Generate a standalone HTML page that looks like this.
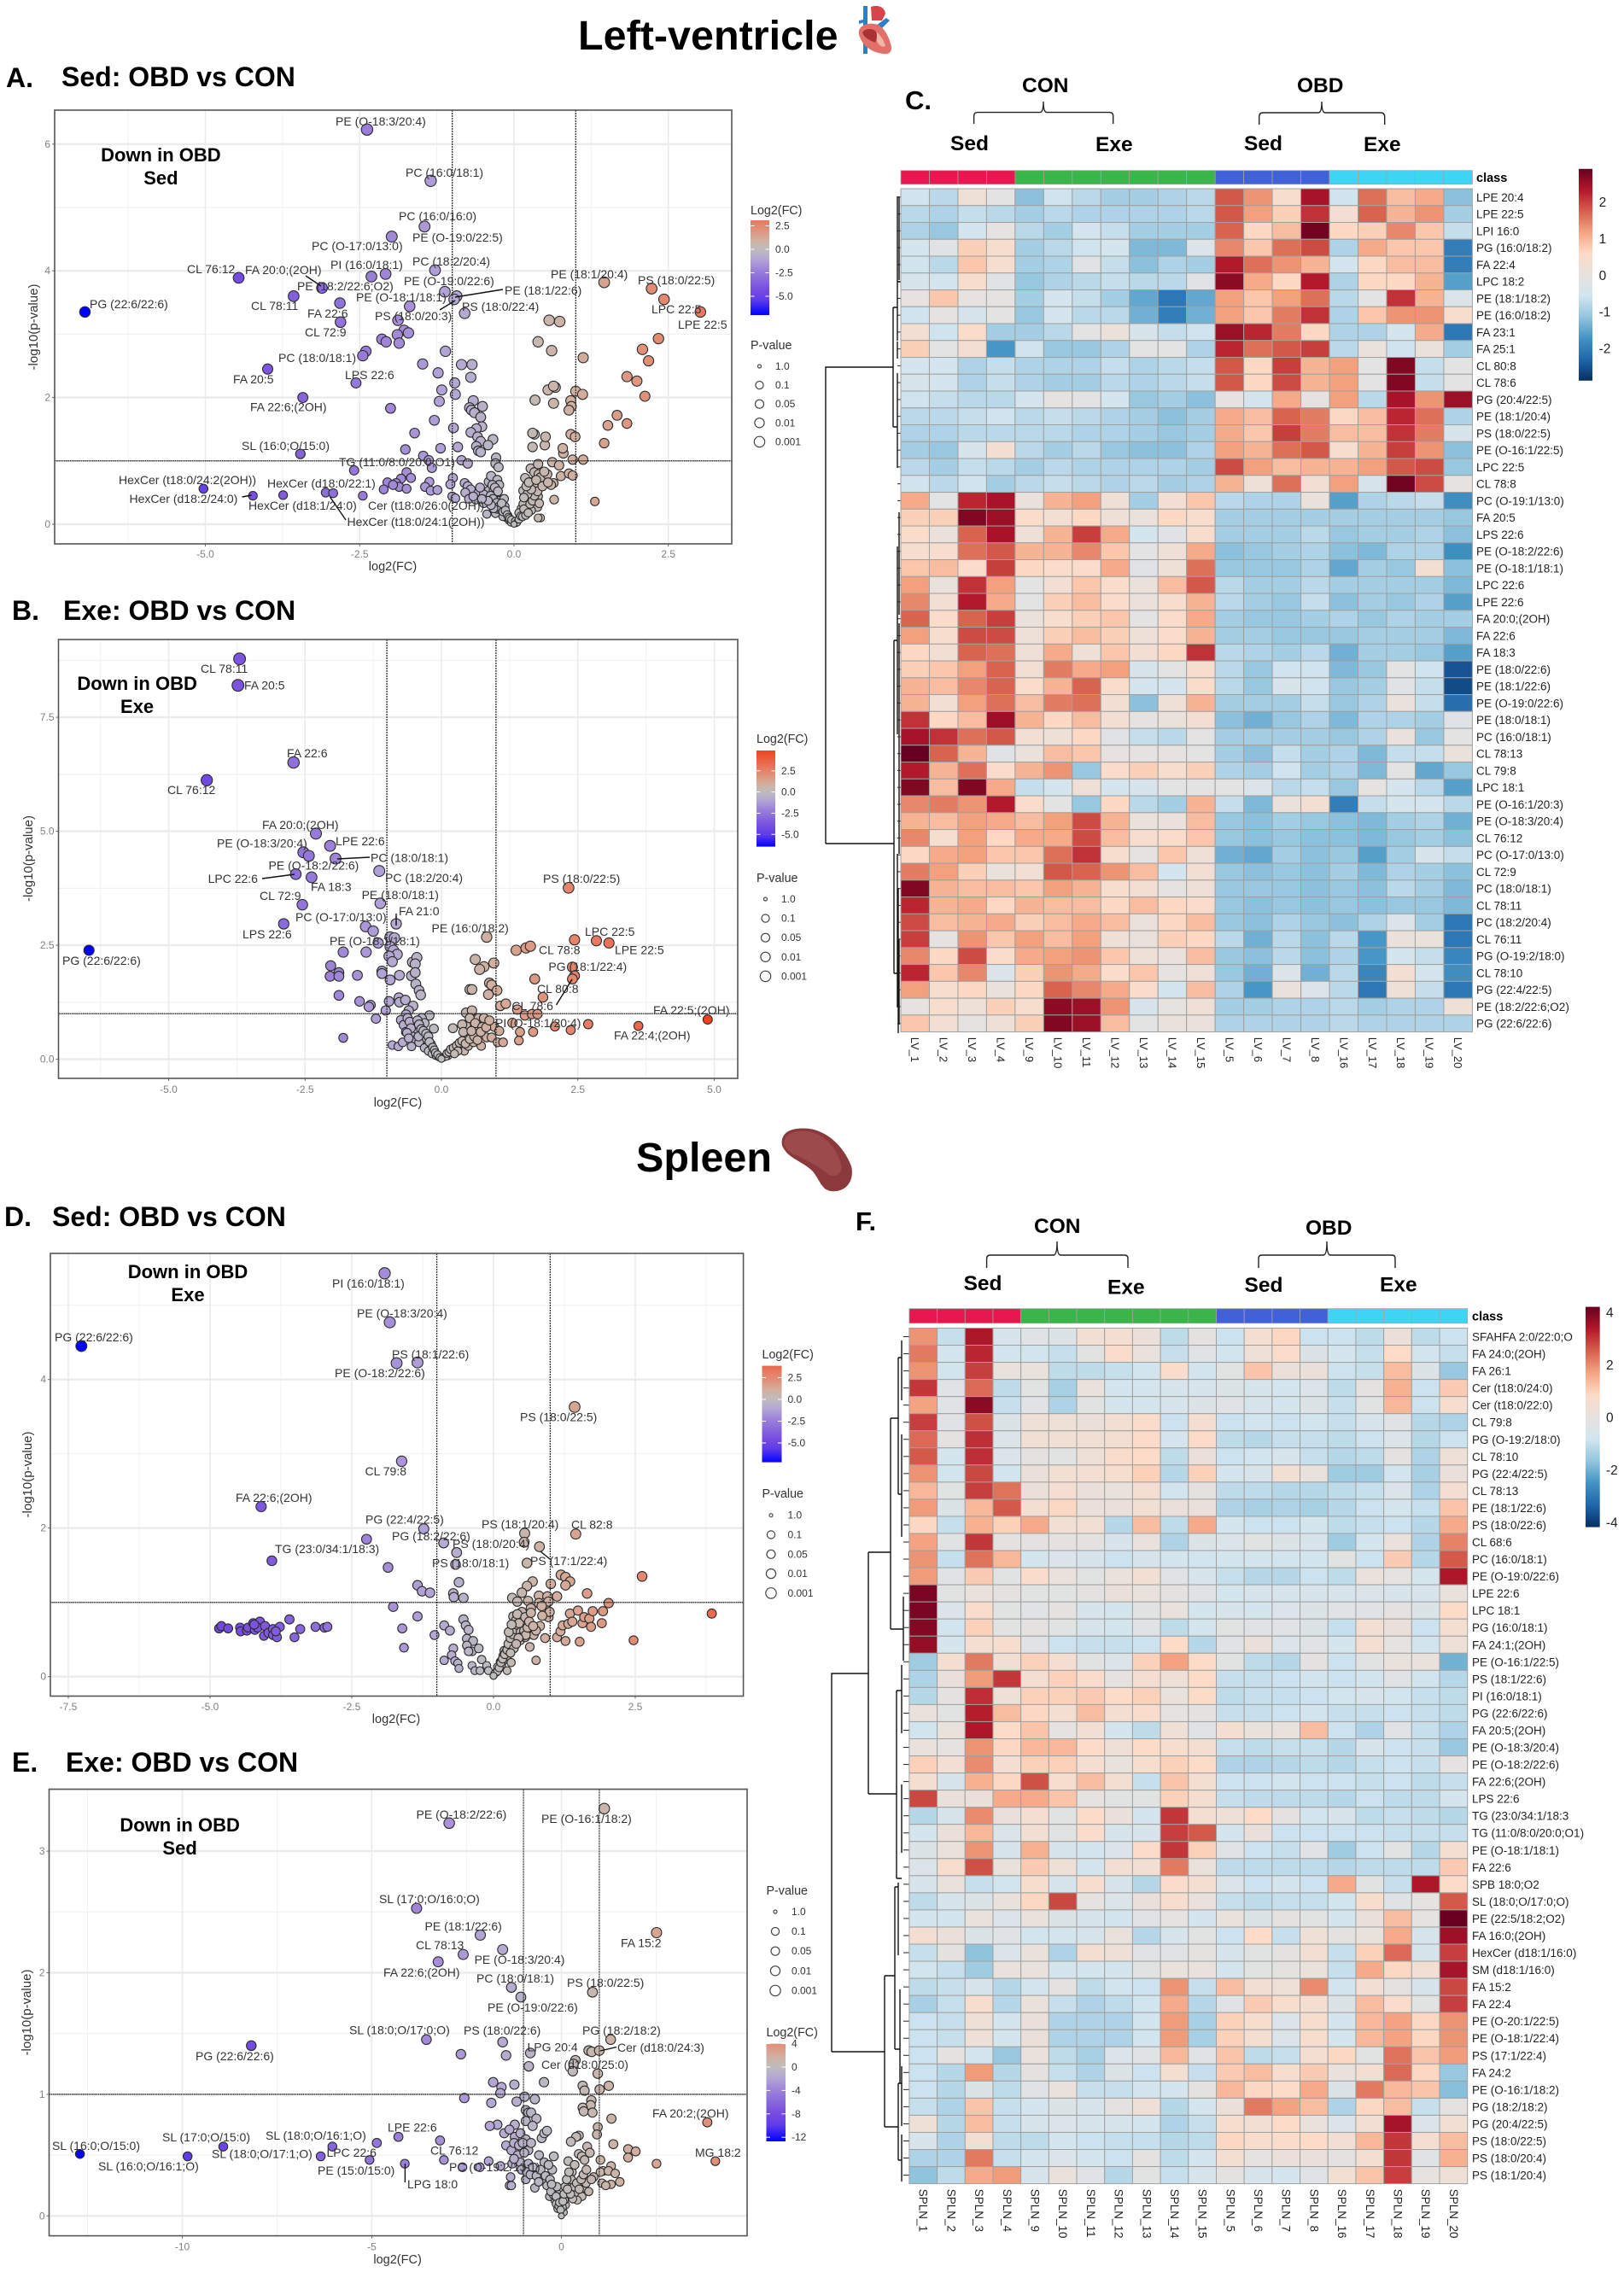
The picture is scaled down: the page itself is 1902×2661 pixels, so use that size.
<!DOCTYPE html>
<html lang="en">
<head>
<meta charset="utf-8">
<title>Lipidomics volcano plots and heatmaps: left ventricle and spleen</title>
<style>
html,body{margin:0;padding:0;background:#fff}
svg{display:block;font-family:"Liberation Sans",sans-serif}
.lb{font-size:14px;fill:#333}
.title{font-size:32px;font-weight:700;fill:#000}
.big{font-size:48.5px;font-weight:700;fill:#000}
.grp{font-size:24.5px;font-weight:700;fill:#000}
.note{font-size:22px;font-weight:700;fill:#000;text-anchor:middle}
.seg{stroke:#111;stroke-width:1.4;fill:none}
.brk{stroke:#222;stroke-width:1.4;fill:none}
.den{stroke:#111;stroke-width:1.4;fill:none}
</style>
</head>
<body>
<svg id="fig" xmlns="http://www.w3.org/2000/svg" width="1902" height="2661" viewBox="0 0 1902 2661">
<rect x="0" y="0" width="1902" height="2661" fill="#fff"/>
<defs id="defs"></defs>

<text class="big" x="677" y="58">Left-ventricle</text>
<g>
<path d="M1011 7h5v56h-5z" fill="#2c80c4"/>
<path d="M1006 24l10-2v3l-10 3z" fill="#2c80c4"/>
<path d="M1020 8c8-3 16 0 17 8l-4 8h-12z" fill="#d9434a"/>
<path d="M1026 30l12-9 4 3-12 12z" fill="#2c80c4"/>
<path d="M1006 36c2-8 14-10 22-7 8 4 12 12 15 22 3 9-1 13-8 12-11-1-19-6-24-12-3-5-6-10-5-15z" fill="#e2706a"/>
<path d="M1010 38c3-5 11-5 15-2 3 3 2 9 0 14-4-2-13-5-15-12z" fill="#a93237"/>
<path d="M1027 38c4 3 8 9 10 16-4 2-8-1-10-6z" fill="#f2b5a8"/>
</g>

<text class="big" x="745" y="1372">Spleen</text>
<g transform="translate(887,1300) scale(.35)">
<path d="M82 105C85 70 120 58 170 62C230 68 290 120 315 190C325 240 295 275 250 272C215 270 210 235 185 205C160 180 120 165 100 145C88 130 80 120 82 105Z" fill="#8a3a3c"/>
<path d="M90 105C95 78 125 68 170 72C225 80 270 130 282 190C282 215 262 225 240 218C210 190 170 170 115 145C95 130 88 120 90 105Z" fill="#9c4a4b"/>
</g>

<text class="title" x="7" y="102">A.</text>
<text class="title" x="72" y="101">Sed: OBD vs CON</text>
<text class="title" x="14" y="726">B.</text>
<text class="title" x="74" y="726">Exe: OBD vs CON</text>
<text class="title" style="font-size:31px" x="1060" y="128">C.</text>
<text class="title" x="5" y="1436">D.</text>
<text class="title" x="61" y="1436">Sed: OBD vs CON</text>
<text class="title" x="14" y="2075">E.</text>
<text class="title" x="77" y="2075">Exe: OBD vs CON</text>
<text class="title" style="font-size:31px" x="1002" y="1441">F.</text>

<!-- heatmap C annotations -->
<text class="grp" x="1197" y="108">CON</text>
<text class="grp" x="1519" y="108">OBD</text>
<text class="grp" x="1113" y="176">Sed</text>
<text class="grp" x="1283" y="177">Exe</text>
<text class="grp" x="1457" y="176">Sed</text>
<text class="grp" x="1597" y="177">Exe</text>
<path class="brk" d="M1140.6 145V136Q1140.6 131.6 1145 131.6H1218Q1222 131.6 1222 119Q1222 131.6 1226 131.6H1299Q1303.7 131.6 1303.7 136V145"/>
<path class="brk" d="M1474.7 146V137Q1474.7 132 1479 132H1544Q1548 132 1548 119Q1548 132 1552 132H1617Q1621.7 132 1621.7 137V146"/>

<!-- heatmap F annotations -->
<text class="grp" x="1211" y="1444">CON</text>
<text class="grp" x="1529" y="1446">OBD</text>
<text class="grp" x="1128.6" y="1511">Sed</text>
<text class="grp" x="1297" y="1515.5">Exe</text>
<text class="grp" x="1457.5" y="1513">Sed</text>
<text class="grp" x="1616" y="1512.5">Exe</text>
<path class="brk" d="M1155.6 1485V1474Q1155.6 1470 1160 1470H1234Q1238 1470 1238 1454Q1238 1470 1242 1470H1317Q1321 1470 1321 1474V1485"/>
<path class="brk" d="M1474 1485V1474Q1474 1470 1478 1470H1550Q1554 1470 1554 1454Q1554 1470 1558 1470H1630Q1634 1470 1634 1474V1485"/>

<!-- dendrograms -->
<path class="den" d="M967 988V430H1046M967 988H1047M1046 360V500M1046 360H1051M1046 500H1051M1051 230V345M1051 400V420M1051 309V399M1051 437V548M1053 230V328M1051 330H1055M1047 750V1140M1047 750H1051M1047 1140H1051M1051 640V860M1051 1000V1180M1053 600V720M1053 730V900M1053 900V1000M1052 1040V1210M1053 1100V1200"/>
<path class="den" d="M974 2403V1960H1017M974 2403H1036M1017 1818V2101M1017 1818H1043M1017 2101H1050M1043 1661V1908M1043 1661H1052M1043 1908H1058M1052 1590V1750M1052 1590H1056M1052 1750H1056M1056 1570V1640M1056 1680V1800M1058 1870V1945M1050 1980V2200M1050 1980H1056M1050 2200H1056M1056 1950V2030M1056 2090V2170M1036 2314V2491M1036 2314H1048M1036 2491H1052M1048 2210V2400M1048 2210H1052M1048 2400H1054M1052 2205V2290M1054 2330V2440M1052 2440V2530M1052 2440H1056M1052 2530H1056M1056 2420V2490M1056 2500V2555"/>
<g id="stubs"></g>

<g id="panels"></g>
<g id="heatmaps"></g>

<!-- Volcano A labels -->
<g>
<text class="lb" x="393" y="147">PE (O-18:3/20:4)</text>
<text class="lb" x="475" y="207">PC (16:0/18:1)</text>
<text class="lb" x="467" y="258">PC (16:0/16:0)</text>
<text class="lb" x="483" y="283">PE (O-19:0/22:5)</text>
<text class="lb" x="365" y="293">PC (O-17:0/13:0)</text>
<text class="lb" x="387" y="315">PI (16:0/18:1)</text>
<text class="lb" x="483" y="311">PC (18:2/20:4)</text>
<text class="lb" x="219" y="320">CL 76:12</text>
<text class="lb" x="287" y="321">FA 20:0;(2OH)</text>
<text class="lb" x="348" y="340">PE (18:2/22:6;O2)</text>
<text class="lb" x="473" y="334">PE (O-19:0/22:6)</text>
<text class="lb" x="645" y="326">PE (18:1/20:4)</text>
<text class="lb" x="747" y="333">PS (18:0/22:5)</text>
<text class="lb" x="417" y="353">PE (O-18:1/18:1)</text>
<text class="lb" x="591" y="345">PE (18:1/22:6)</text>
<text class="lb" x="105" y="361">PG (22:6/22:6)</text>
<text class="lb" x="294" y="363">CL 78:11</text>
<text class="lb" x="541" y="364">PS (18:0/22:4)</text>
<text class="lb" x="763" y="367">LPC 22:5</text>
<text class="lb" x="360" y="372">FA 22:6</text>
<text class="lb" x="439" y="375">PS (18:0/20:3)</text>
<text class="lb" x="794" y="385">LPE 22:5</text>
<text class="lb" x="357" y="394">CL 72:9</text>
<text class="lb" x="326" y="424">PC (18:0/18:1)</text>
<text class="lb" x="404" y="444">LPS 22:6</text>
<text class="lb" x="273" y="449">FA 20:5</text>
<text class="lb" x="293" y="481.5">FA 22:6;(2OH)</text>
<text class="lb" x="283" y="527">SL (16:0;O/15:0)</text>
<text class="lb" x="397" y="546">TG (11:0/8:0/20:0;O1)</text>
<text class="lb" x="139" y="567">HexCer (t18:0/24:2(2OH))</text>
<text class="lb" x="313" y="571">HexCer (d18:0/22:1)</text>
<text class="lb" x="151.5" y="589">HexCer (d18:2/24:0)</text>
<text class="lb" x="291" y="597">HexCer (d18:1/24:0)</text>
<text class="lb" x="431" y="597">Cer (t18:0/26:0(2OH))</text>
<text class="lb" x="406.5" y="616">HexCer (t18:0/24:1(2OH))</text>
<path class="seg" d="M358 323L376 335M533 348L589 339M515 363L533 352M283.5 582L294.5 580M386.5 582L405 609"/>
</g>

<!-- Volcano B labels -->
<g>
<text class="lb" x="235" y="788">CL 78:11</text>
<text class="lb" x="286" y="807.7">FA 20:5</text>
<text class="lb" x="336" y="887">FA 22:6</text>
<text class="lb" x="196" y="930">CL 76:12</text>
<text class="lb" x="307" y="971">FA 20:0;(2OH)</text>
<text class="lb" x="254" y="992.5">PE (O-18:3/20:4)</text>
<text class="lb" x="393" y="990">LPE 22:6</text>
<text class="lb" x="434" y="1009.7">PC (18:0/18:1)</text>
<text class="lb" x="314.5" y="1018.7">PE (O-18:2/22:6)</text>
<text class="lb" x="243.6" y="1034">LPC 22:6</text>
<text class="lb" x="451" y="1033">PC (18:2/20:4)</text>
<text class="lb" x="636" y="1034">PS (18:0/22:5)</text>
<text class="lb" x="364" y="1043.6">FA 18:3</text>
<text class="lb" x="423.6" y="1053">PE (18:0/18:1)</text>
<text class="lb" x="304" y="1054">CL 72:9</text>
<text class="lb" x="467" y="1072">FA 21:0</text>
<text class="lb" x="346" y="1079">PC (O-17:0/13:0)</text>
<text class="lb" x="505.5" y="1092">PE (16:0/18:2)</text>
<text class="lb" x="685" y="1096">LPC 22:5</text>
<text class="lb" x="284" y="1099">LPS 22:6</text>
<text class="lb" x="386" y="1107">PE (O-18:1/18:1)</text>
<text class="lb" x="631" y="1117.5">CL 78:8</text>
<text class="lb" x="720" y="1117.5">LPE 22:5</text>
<text class="lb" x="73" y="1130">PG (22:6/22:6)</text>
<text class="lb" x="642.4" y="1137">PG (18:1/22:4)</text>
<text class="lb" x="629" y="1163">CL 80:8</text>
<text class="lb" x="599.4" y="1183">CL 78:6</text>
<text class="lb" x="765" y="1188">FA 22:5;(2OH)</text>
<text class="lb" x="580" y="1203">PI (O-18:1/20:4)</text>
<text class="lb" x="719" y="1217.5">FA 22:4;(2OH)</text>
<path class="seg" d="M395 1006L433 1004M307 1029L345 1024M464 1070V1084M651.5 1177L670 1147"/>
</g>

<!-- Volcano D labels -->
<g>
<text class="note" x="220" y="1497">Down in OBD</text>
<text class="note" x="220" y="1524">Exe</text>
<text class="lb" x="389" y="1508">PI (16:0/18:1)</text>
<text class="lb" x="418" y="1543">PE (O-18:3/20:4)</text>
<text class="lb" x="64" y="1571">PG (22:6/22:6)</text>
<text class="lb" x="459" y="1591">PS (18:1/22:6)</text>
<text class="lb" x="392" y="1613">PE (O-18:2/22:6)</text>
<text class="lb" x="609" y="1664.6">PS (18:0/22:5)</text>
<text class="lb" x="427.5" y="1728">CL 79:8</text>
<text class="lb" x="276" y="1759">FA 22:6;(2OH)</text>
<text class="lb" x="428" y="1784.6">PG (22:4/22:5)</text>
<text class="lb" x="564" y="1790">PS (18:1/20:4)</text>
<text class="lb" x="669" y="1790.7">CL 82:8</text>
<text class="lb" x="459" y="1804">PG (18:2/22:6)</text>
<text class="lb" x="530" y="1813">PS (18:0/20:4)</text>
<text class="lb" x="322" y="1819">TG (23:0/34:1/18:3)</text>
<text class="lb" x="621" y="1833">PS (17:1/22:4)</text>
<text class="lb" x="506" y="1835.6">PS (18:0/18:1)</text>
<path class="seg" d="M633 1817L644 1826"/>
</g>

<!-- Volcano E labels -->
<g>
<text class="note" x="210.6" y="2145">Down in OBD</text>
<text class="note" x="210.6" y="2172">Sed</text>
<text class="lb" x="487.5" y="2130">PE (O-18:2/22:6)</text>
<text class="lb" x="634" y="2135">PE (O-16:1/18:2)</text>
<text class="lb" x="444" y="2229">SL (17:0;O/16:0;O)</text>
<text class="lb" x="497.5" y="2261">PE (18:1/22:6)</text>
<text class="lb" x="727" y="2280.5">FA 15:2</text>
<text class="lb" x="487" y="2283">CL 78:13</text>
<text class="lb" x="555.6" y="2300">PE (O-18:3/20:4)</text>
<text class="lb" x="449" y="2315">FA 22:6;(2OH)</text>
<text class="lb" x="558" y="2322">PC (18:0/18:1)</text>
<text class="lb" x="664" y="2327">PS (18:0/22:5)</text>
<text class="lb" x="571" y="2356">PE (O-19:0/22:6)</text>
<text class="lb" x="409" y="2382.5">SL (18:0;O/17:0;O)</text>
<text class="lb" x="543" y="2383">PS (18:0/22:6)</text>
<text class="lb" x="682" y="2383">PG (18:2/18:2)</text>
<text class="lb" x="617.5" y="2402.6">LPG 20:4</text>
<text class="lb" x="723" y="2403">Cer (d18:0/24:3)</text>
<text class="lb" x="229" y="2413">PG (22:6/22:6)</text>
<text class="lb" x="634" y="2423">Cer (d18:0/25:0)</text>
<text class="lb" x="764" y="2480">FA 20:2;(2OH)</text>
<text class="lb" x="454" y="2496.6">LPE 22:6</text>
<text class="lb" x="311" y="2506">SL (18:0;O/16:1;O)</text>
<text class="lb" x="190" y="2508">SL (17:0;O/15:0)</text>
<text class="lb" x="61" y="2518">SL (16:0;O/15:0)</text>
<text class="lb" x="248" y="2527.5">SL (18:0;O/17:1;O)</text>
<text class="lb" x="382.5" y="2526">LPC 22:6</text>
<text class="lb" x="504" y="2523.6">CL 76:12</text>
<text class="lb" x="814" y="2526">MG 18:2</text>
<text class="lb" x="115" y="2542">SL (16:0;O/16:1;O)</text>
<text class="lb" x="526" y="2543">PC (O-19:2/13:1)</text>
<text class="lb" x="372" y="2547">PE (15:0/15:0)</text>
<text class="lb" x="477" y="2563">LPG 18:0</text>
<path class="seg" d="M703 2402L722 2397.6M474.4 2534V2556"/>
</g>

<g>
<text class="note" x="188.4" y="189">Down in OBD</text>
<text class="note" x="188.4" y="216">Sed</text>
</g>
<g>
<text class="note" x="160.6" y="808">Down in OBD</text>
<text class="note" x="160.6" y="835">Exe</text>
</g>
</svg>

<script>
/* ---------- Volcano data: [log2(FC), -log10(p-value)] ---------- */
const volcanoAPoints=[[-6.95,3.35],[-4.46,3.89],[-3.11,3.73],[-3.57,3.6],[-2.82,3.49],[-2.81,3.19],[-3.99,2.45],[-3.42,2],[-2.38,6.23],[-1.35,5.42],[-1.45,4.7],[-1.98,4.54],[-1.28,4.01],[-2.08,3.95],[-2.31,3.91],[-1.12,3.67],[-.93,3.6],[-.97,3.55],[-1.69,3.44],[-.8,3.33],[-1.88,3.22],[-1.78,3.06],[-1.71,3.02],[-1.89,2.99],[-2.14,2.92],[-2.07,2.88],[-1.86,2.86],[-2.4,2.73],[-2.45,2.66],[-1.11,2.73],[-1.48,2.53],[-.85,2.52],[-.68,2.52],[-1.23,2.39],[-.7,2.32],[-.96,2.23],[-2.56,2.23],[-1.17,2.12],[-.95,2.05],[-1.21,1.94],[-.66,1.95],[-2,1.83],[-.72,1.84],[-.69,1.8],[-.64,1.76],[-.51,1.86],[-.54,1.69],[-1.29,1.64],[-.52,1.54],[-.61,1.51],[-.98,1.52],[-.7,1.45],[-1.61,1.44],[-.59,1.38],[-.34,1.34],[-.54,1.31],[-.42,1.25],[-.61,1.23],[-.58,1.16],[-.54,1.14],[-1.19,1.2],[-.91,1.22],[-1.76,1.18],[-3.46,1.11],[-1.47,1.08],[-1.38,1.01],[-.85,1.01],[-.75,.96],[-.29,1.05],[-.3,.96],[-.25,.9],[-2.59,.85],[-1.33,.89],[-1.74,.82],[-1.67,.73],[-1.83,.72],[-1.91,.65],[-1.86,.59],[-2.05,.66],[-2.11,.55],[-1.74,.56],[-1.96,.62],[-1.37,.67],[-1.44,.59],[-1.35,.53],[-1.24,.54],[-.99,.73],[-1.03,.63],[-5.03,.56],[-4.23,.45],[-3.74,.46],[-3.05,.5],[-2.93,.49],[-2.45,.45],[-1,.44],[-.95,.41],[-.8,.65],[-.75,.6],[-.7,.55],[-.79,.5],[-.73,.4],[-.58,.49],[-.62,.39],[-.49,.33],[-.41,.67],[-.37,.76],[-.27,.7],[-.24,.62],[-.41,.53],[-.33,.53],[-.29,.44],[-.24,.37],[-.49,.47],[-.33,.39],[-.22,.3],[-.16,.4],[-.44,.16],[-.3,.17],[-.27,.24],[-.13,.18],[-.12,.1],[-.08,.06],[-.05,.03],[.03,.02],[.06,.06],[.1,.1],[.13,.15],[.17,.2],[.2,.25],[.12,.25],[.22,.3],[.18,.38],[.25,.42],[.33,.3],[.38,.27],[.43,.1],[-.2,.22],[-.18,.12],[-.1,.14],[-.15,.28],[.08,.18],[.15,.32],[.28,.22],[.15,.53],[.39,.44],[.65,.39],[1.31,.36],[.39,.1],[.18,.73],[.27,.88],[.33,.82],[.4,.79],[.39,.95],[.3,.67],[.37,.59],[.43,.74],[.54,.79],[.62,.98],[.76,.76],[.73,.93],[.64,.65],[.6,.62],[.89,.8],[.95,.77],[.95,1.02],[1.12,1.02],[.8,1.12],[.79,1.2],[.5,1.25],[.3,1.22],[.51,1.38],[.33,1.42],[.3,1.44],[.92,1.42],[.99,1.38],[1.46,1.28],[1.52,1.56],[1.83,1.59],[1.67,1.72],[2.12,2.02],[1.99,2.26],[1.83,2.33],[2.18,2.58],[2.08,2.76],[2.34,2.93],[3.02,3.35],[2.43,3.55],[2.23,3.72],[1.46,3.82],[.57,3.22],[.74,3.2],[.39,2.88],[.61,2.74],[1.12,2.63],[.55,2.12],[.67,2.16],[.64,2.18],[.34,1.96],[.64,1.91],[1,2.1],[1.11,2.05],[.92,1.95],[.93,1.86],[.89,1.8],[-.35,.62],[-.31,.58],[-.26,.52],[-.38,.45],[-.34,.4],[-.28,.34],[-.24,.28],[-.2,.33],[-.33,.25],[-.37,.3],[-.42,.37],[-.18,.2],[-.14,.22],[-.11,.15],[-.09,.11],[-.07,.09],[-.04,.07],[.02,.05],[.05,.03],[.08,.08],[.11,.13],[.14,.12],[.16,.24],[.19,.14],[.23,.18],[.26,.32],[.3,.37],[.33,.45],[.38,.52],[.41,.33],[.22,.48],[.28,.55],[.16,.42],[.2,.6],[.24,.66],[.36,.7],[.46,.6],[.49,.83],[.55,.66],[-.55,.58],[-.66,.44],[-.52,.4],[0,0]];

const volcanoBPoints=[[-3.7,8.78],[-3.73,8.2],[-2.71,6.51],[-4.3,6.12],[-2.3,4.95],[-2.04,4.68],[-2.53,4.54],[-2.43,4.46],[-1.94,4.4],[-2.67,4.06],[-2.38,3.99],[-1.14,4.13],[-2.55,3.39],[-1.12,3.42],[-.83,2.97],[-2.89,2.97],[-1.39,2.91],[-1.25,2.81],[-6.46,2.39],[-1.8,2.35],[-1.38,2.35],[-1.16,2.55],[-.94,2.68],[-.86,2.66],[-.94,2.47],[-.88,2.39],[-.81,2.3],[-.96,2.26],[-.9,2.14],[-.53,2.13],[-.45,2.23],[-.48,2.09],[-2.03,2.05],[-2.04,1.82],[-1.88,1.9],[-1.88,1.82],[-1.54,1.84],[-1.09,1.93],[-1.09,1.88],[-.77,1.84],[-.94,1.74],[-.55,1.83],[-.48,1.9],[-.47,1.65],[-.41,1.51],[-.38,1.41],[-1.88,1.4],[-1.5,1.27],[-1.3,1.19],[-1.33,1.15],[-.96,1.27],[-.78,1.35],[-.77,1.25],[-.66,1.3],[-1.02,1.07],[-1.2,.89],[-.52,1.17],[-.6,1.07],[-.65,.98],[-.22,.96],[-.74,.86],[-.36,.9],[-.69,.75],[-.5,.75],[-.31,.79],[-.14,.67],[-1.8,.47],[-.65,.6],[-.55,.52],[-.46,.67],[-.36,.56],[-.27,.44],[-.5,.41],[-.9,.31],[-.79,.28],[-.71,.37],[-.55,.28],[-.41,.37],[-.31,.25],[-.19,.33],[-.24,.18],[-.17,.12],[-.1,.08],[-.05,.05],[.05,.05],[.12,.08],[.19,.15],[.26,.21],[.35,.29],[.42,.18],[.49,.29],[.59,.37],[.21,.68],[.45,.75],[.38,.76],[.45,1.02],[.56,1.07],[.52,.9],[.68,.9],[.78,.9],[.62,.79],[.75,.71],[.64,.6],[.47,.48],[.83,.48],[.73,.29],[.92,.48],[1.03,.37],[1.13,.37],[.97,.71],[1.06,.62],[.83,2.68],[.62,2.19],[.96,2.11],[.78,2.03],[.7,1.97],[.52,1.53],[.56,1.53],[.88,1.67],[.92,1.63],[1.02,1.51],[.86,1.42],[1.08,1.17],[1.18,1.22],[1.39,1.09],[1.53,.96],[1.66,.99],[1.76,.99],[1.3,.8],[1.37,2.39],[1.55,2.44],[1.63,2.48],[2.33,3.76],[2.44,2.62],[2.84,2.6],[3.07,2.55],[2.4,2.02],[2.44,1.83],[2.4,1.76],[1.71,1.76],[1.86,1.36],[2.08,.72],[2.37,.64],[2.69,.77],[1.44,.6],[1.68,.6],[1.42,.41],[3.61,.73],[4.88,.87],[-.62,.9],[-.58,.82],[-.56,.68],[-.63,.58],[-.44,.85],[-.41,.76],[-.37,.66],[-.42,.5],[-.6,.46],[-.33,.62],[-.28,.56],[-.24,.5],[-.22,.38],[-.16,.26],[-.13,.2],[-.11,.14],[-.07,.1],[-.03,.04],[.02,.03],[.08,.06],[.1,.13],[.14,.16],[.17,.22],[.22,.25],[.28,.3],[.33,.36],[.38,.4],[.44,.34],[.52,.44],[.6,.5],[.66,.42],[.3,.18],[.24,.12],[.4,.6],[.55,.62],[.72,.6],[.82,.7],[.88,.85],[0,.01]];

const volcanoDPoints=[[-7.27,4.45],[-1.92,5.43],[-1.83,4.77],[-1.71,4.22],[-1.34,4.23],[1.43,3.63],[-1.62,2.9],[-4.1,2.29],[-1.23,1.99],[-2.24,1.85],[-3.91,1.56],[-1.86,1.47],[-.88,1.8],[-.65,1.67],[-.67,1.51],[.55,1.93],[.54,1.81],[1.45,1.92],[.81,1.75],[.59,1.53],[2.62,1.35],[-.61,1.27],[-1.34,1.23],[-1.26,1.15],[-1.12,1.13],[-.71,1.12],[-.7,1.07],[-.53,1.06],[1.19,1.37],[1.27,1.34],[1.35,1.28],[1.27,1.23],[.69,1.28],[.59,1.22],[1.01,1.25],[.5,1.13],[.33,1.06],[.42,1.01],[.8,1.09],[.61,1.02],[.95,1.08],[1.12,1.08],[1.65,1.12],[2.03,.99],[.8,.99],[.97,1.01],[.95,.89],[.97,.8],[.66,.92],[-1.77,.94],[-1.34,.81],[-.53,.77],[-.49,.69],[-.44,.63],[-.87,.69],[-.77,.62],[-1.61,.65],[-1.04,.56],[-1.58,.39],[-.47,.51],[-.36,.48],[-.47,.42],[-.38,.34],[-.26,.38],[-.44,.34],[-.71,.38],[-.74,.29],[-.68,.21],[-.87,.22],[-.63,.18],[-.61,.11],[-.38,.15],[-.33,.08],[-.24,.08],[-.21,.23],[-.12,.15],[-.09,.08],[.05,.06],[.09,.1],[.14,.16],[.19,.23],[.24,.28],[.28,.38],[.33,.45],[.38,.52],[.42,.59],[.5,.66],[.56,.7],[.61,.61],[.71,.56],[.35,.7],[.35,.81],[.5,.87],[.4,.76],[.52,.77],[.75,.22],[.24,.08],[.31,.19],[.19,.35],[.47,.49],[.56,.53],[.64,.4],[.91,.52],[.82,.68],[.75,.62],[.99,.87],[.02,.04],[.07,.13],[.12,.2],[.17,.28],[.22,.33],[.27,.42],[.32,.52],[.37,.6],[.44,.66],[.52,.58],[.58,.62],[.48,.74],[.42,.84],[1.12,.53],[1.18,.61],[1.22,.69],[1.27,.48],[1.52,.47],[1.32,.71],[1.35,.85],[1.39,.74],[1.49,.89],[1.57,.72],[1.6,.8],[1.69,.78],[1.72,.67],[1.75,.88],[1.93,.88],[1.91,.72],[2.47,.49],[3.85,.85],[-4.84,.65],[-4.8,.68],[-4.68,.65],[-4.47,.66],[-4.46,.61],[-4.35,.62],[-4.33,.66],[-4.24,.72],[-4.21,.63],[-4.12,.74],[-4.16,.66],[-4.03,.68],[-4.05,.55],[-3.97,.59],[-3.89,.64],[-3.89,.56],[-3.82,.53],[-3.77,.67],[-3.84,.61],[-3.6,.77],[-3.51,.53],[-3.41,.64],[-3.14,.67],[-2.98,.66],[-2.93,.67],[-4.22,.7],[.07,.07],[.1,.12],[.13,.19],[.16,.24],[.2,.3],[.24,.36],[.26,.44],[.3,.52],[.34,.57],[.38,.64],[.41,.7],[.45,.72],[.48,.6],[.51,.55],[.54,.62],[.57,.56],[.6,.66],[.44,.52],[.36,.38],[.3,.32],[.4,.44],[.56,.8],[.63,.74],[.7,.68],[.66,.86],[.85,.95],[.86,.82],[.27,.6],[.32,.7],[0,.01]];

const volcanoEPoints=[[1.13,3.35],[-2.96,3.23],[-3.82,2.53],[-2.14,2.31],[2.51,2.33],[-1.55,2.19],[-2.59,2.15],[-3.25,2.09],[-1.32,1.88],[-1.07,1.8],[.82,1.84],[-3.56,1.45],[-1.55,1.43],[1.3,1.45],[-8.18,1.4],[-2.65,1.33],[-1.46,1.32],[-.82,1.34],[.72,1.36],[.8,1.35],[1,1.36],[.37,1.28],[.32,1.25],[-.86,1.23],[.3,1.19],[.96,1.17],[-1.8,1.1],[-1.58,1.06],[-1.61,1.01],[-1.24,1.08],[-.46,1.1],[.56,1.07],[.61,1.03],[1.01,1.04],[1.25,1.07],[-2.56,.97],[-.97,.98],[-.7,.96],[-1.18,.94],[-1.85,.93],[.79,.95],[.77,.91],[.56,.89],[.59,.86],[.82,.85],[1.32,.8],[-.94,.87],[-.87,.85],[-.8,.85],[-.66,.8],[-.94,.78],[-.76,.74],[-1.23,.75],[-1.69,.75],[-1.89,.74],[.96,.73],[.94,.67],[.46,.66],[.39,.65],[.25,.61],[3.85,.77],[-4.3,.65],[-4.87,.6],[-3.2,.62],[-6.04,.57],[-6.35,.49],[-8.92,.57],[-9.86,.49],[-12.7,.51],[-5.06,.46],[-4.13,.43],[-3.1,.46],[-2.61,.4],[-2.15,.4],[-1.92,.45],[-1.61,.41],[4.06,.45],[2.51,.43],[1.37,.59],[1.76,.55],[1.96,.53],[1.76,.48],[1.54,.28],[-1.51,.68],[-1.37,.71],[-1.23,.65],[-1.08,.68],[-.94,.63],[-1.46,.58],[-1.32,.54],[-1.15,.5],[-.94,.56],[-.87,.54],[-.52,.64],[-.45,.68],[-.38,.7],[-1.3,.43],[-1.08,.44],[-.87,.43],[-.59,.5],[-.45,.44],[-1.34,.32],[-1.37,.25],[-1.32,.25],[-.94,.3],[-.7,.23],[-.73,.36],[-.24,.38],[-.2,.49],[-.48,.3],[-.38,.25],[-.24,.19],[-.17,.13],[-.1,.06],[.06,.03],[.11,.09],[.18,.16],[.23,.25],[.18,.45],[.28,.36],[.37,.19],[.54,.16],[.61,.23],[.46,.51],[.54,.49],[.61,.46],[.68,.57],[.75,.52],[1.03,.46],[1.1,.37],[1.03,.36],[1.07,.27],[1.31,.41],[1.24,.37],[1.42,.35],[.85,.32],[1.31,.26],[1.17,.25],[.65,.27],[.79,.3],[-.17,.23],[-.1,.18],[-.31,.16],[-.03,.12],[-.14,.1],[-.07,.15],[-.2,.17],[-.28,.2],[-.12,.24],[.03,.07],[.08,.13],[.13,.2],[.2,.2],[.26,.3],[.34,.24],[.42,.13],[-1.25,.6],[-1.12,.58],[-1.02,.6],[-.98,.52],[-.8,.6],[-1.25,.47],[-1.05,.38],[-.92,.36],[-.82,.34],[-.75,.4],[-.66,.33],[-.6,.28],[-.55,.38],[-.42,.33],[-.34,.42],[-.3,.3],[-.26,.26],[-.14,.16],[-.07,.08],[-.05,.11],[-.02,.05],[.04,.12],[.07,.18],[.1,.24],[.14,.3],[.2,.36],[.3,.14],[.24,.18],[.4,.27],[.47,.22],[.52,.3],[.58,.34],[.35,.42],[.66,.38],[.72,.2],[.16,.22],[0,0]];

const volcanoATicksX=[-5,-2.5,0,2.5];
const volcanoATicksY=[0,2,4,6];
const volcanoBTicksX=[-5,-2.5,0,2.5,5];
const volcanoBTicksY=[0,2.5,5,7.5];
const volcanoDTicksX=[-7.5,-5,-2.5,0,2.5];
const volcanoDTicksY=[0,2,4];
const volcanoETicksX=[-10,-5,0];
const volcanoETicksY=[0,1,2,3];
const legendATicks=[2.5,0,-2.5,-5];
const legendBTicks=[2.5,0,-2.5,-5];
const legendDTicks=[2.5,0,-2.5,-5];
const legendETicks=[4,0,-4,-8,-12];
const pValueLegendValues=[1,0.1,0.05,0.01,0.001];
const pValueLegendText=["1.0","0.1","0.05","0.01","0.001"];

/* ---------- Heatmap C data ---------- */
const heatCRows=["LPE 20:4","LPE 22:5","LPI 16:0","PG (16:0/18:2)","FA 22:4","LPC 18:2","PE (18:1/18:2)","PE (16:0/18:2)","FA 23:1","FA 25:1","CL 80:8","CL 78:6","PG (20:4/22:5)","PE (18:1/20:4)","PS (18:0/22:5)","PE (O-16:1/22:5)","LPC 22:5","CL 78:8","PC (O-19:1/13:0)","FA 20:5","LPS 22:6","PE (O-18:2/22:6)","PE (O-18:1/18:1)","LPC 22:6","LPE 22:6","FA 20:0;(2OH)","FA 22:6","FA 18:3","PE (18:0/22:6)","PE (18:1/22:6)","PE (O-19:0/22:6)","PE (18:0/18:1)","PC (16:0/18:1)","CL 78:13","CL 79:8","LPC 18:1","PE (O-16:1/20:3)","PE (O-18:3/20:4)","CL 76:12","PC (O-17:0/13:0)","CL 72:9","PC (18:0/18:1)","CL 78:11","PC (18:2/20:4)","CL 76:11","PG (O-19:2/18:0)","CL 78:10","PG (22:4/22:5)","PE (18:2/22:6;O2)","PG (22:6/22:6)"];
const heatCCols=["LV_1","LV_2","LV_3","LV_4","LV_9","LV_10","LV_11","LV_12","LV_13","LV_14","LV_15","LV_5","LV_6","LV_7","LV_8","LV_16","LV_17","LV_18","LV_19","LV_20"];
const heatCValues=[
[-.6,-.8,.2,-.1,-1.2,-.6,-.8,-1,-1,-.9,-.8,1.8,1.3,.4,2.4,-.6,1.6,.9,1.1,-1.2],
[-.8,-.9,-.7,-.8,-1,-.8,-.9,-.9,-.9,-.9,-.8,1.8,1.2,.7,2.1,.3,1.7,1,1.3,-1],
[-.9,-1.1,-.5,0,-.8,-1,-.5,-.7,-1,-1,-1,1.7,.6,.9,2.8,.6,.7,1.4,.8,-.7],
[-.5,-.2,.7,.4,-1,-.8,-.6,-.5,-1.3,-1.3,-.3,1.4,.8,1.6,1.9,-.9,1.1,.8,.8,-2],
[-.6,-.8,.8,.4,-1,-.9,-.2,-.7,-1.2,-.9,-1,2.3,1.6,1.3,1,-.5,.6,.9,.9,-2],
[-.4,-.5,.4,-.2,-1.1,-.9,-.8,-.7,-.8,-.8,-.2,2.6,1.1,.6,2.3,-.9,.6,.6,1,-1.6],
[0,.8,0,0,-1,-.5,-.7,-1,-1.5,-2.1,-1.5,1.2,.8,1.2,1.6,-.8,-.1,2.1,1,-.3],
[-.6,0,-.4,-.1,-1.1,-.5,-.8,-.8,-1.4,-2,-1.4,1.2,.8,1.5,2.1,-.9,.8,1.3,1.3,.4],
[.3,-.6,.5,-1,-1,-.8,-.1,.1,-.4,-.7,-.6,2.5,2.2,1.5,.6,-.9,-.9,-.5,1.1,-2.1],
[.7,-.1,.3,-1.7,-.6,-1.1,-1.1,-.9,-.1,-.1,-.9,2.2,1.6,1.8,2,-.8,.1,-.6,.1,-1],
[-.5,-.5,-.9,-.7,-.9,-.9,-.9,-.7,-.9,-.8,-.7,1.8,.6,2,1,1.2,-.1,2.7,-.7,-.1],
[-.4,-.5,-.9,-.7,-.9,-1,-1,-.8,-.9,-.8,-.7,1.8,.6,1.9,1,1.2,-.1,2.7,-.7,-.1],
[-.6,-.7,-.8,-.8,-.5,0,-.1,-.5,-1.1,-1,-1.2,0,-.5,1.1,0,1.2,-.8,2.4,1.3,2.5],
[-.8,-.8,-.7,-.6,-.8,-.7,-.8,-.9,-1,-1.2,-1,1.1,.9,1.7,1.5,.6,.9,2.2,1.6,-.9],
[-.9,-.9,-.8,-.8,-.8,-.8,-.9,-.9,-1,-1.1,-1,1.1,.8,2,1.5,.9,.9,2.1,1.5,-.4],
[-1,-1.1,-.4,.3,-.8,-1,-.8,-1.1,-1.2,-1.2,-.9,1.2,1,1.6,1.8,.4,1,2,1.3,-1.2],
[-.8,-1,-.7,-.8,-1,-.8,-.9,-.9,-.9,-.9,-1,1.9,1.2,.9,1,1,1.2,1.8,1.9,-1.1],
[-.6,-.8,-.6,-1,-.8,-.7,-.8,-.9,-.8,-1,-.9,1,.2,1.6,.3,1.2,-.4,2.8,1.9,0],
[1.1,-.1,2.2,2.4,.1,1,1.2,.2,-1,.3,.8,-.8,-.9,-.9,.1,-1.6,-.9,-.8,-.7,-1.8],
[.7,.7,2.7,2.5,.5,.3,.6,.2,.1,.6,.4,-1,-1,-1,-1,-1,-1,-1,-1,-1.1],
[.5,.1,1.7,2.4,.2,1,2,1.1,-.5,-.2,.4,-1,-1,-1,-.8,-1.1,-1,-1,-.9,-1.2],
[.4,.4,1.6,1.8,1,1,1.4,.8,-.1,.2,1.1,-1.2,-1.1,-1,-.9,-1.2,-1.3,-.9,-.9,-1.8],
[.8,.9,.5,2,.6,.5,.5,1.1,-.2,.2,1.6,-1.1,-1.1,-1.1,-.9,-1.5,-1,-1.1,.3,-1.2],
[1.2,.1,2.1,1.2,-.1,.3,.8,.5,.1,.9,1.8,-.8,-1,-1,-.8,-1,-1,-1,-1,-1.3],
[1.4,.3,2.3,1.1,-.1,.7,.9,.5,.1,.4,1,-.8,-1,-1.1,-.7,-1.2,-1,-1.1,-.9,-1.6],
[1.7,.5,1.7,2,.1,.4,.7,.8,-.1,.5,1.1,-1,-1.1,-1.1,-1,-.9,-1.1,-.9,-1,-1],
[1.2,.4,1.9,1.9,.2,.7,.9,.7,.2,.5,1,-1,-1,-1.1,-1.1,-1.1,-1,-1,-1,-1.3],
[.6,.3,1.7,1.6,.2,1.1,.2,.8,.3,.6,2.1,-.8,-.9,-1,-.8,-1.4,-1,-1,-1.1,-1.6],
[.7,.8,1.2,1.7,.3,1.5,1.1,1.2,-.4,-.1,.4,-.8,-1.1,-.6,-.6,-1.3,-1.1,-.1,-.6,-2.5],
[1,.9,1.4,1.7,.5,1,1.7,.5,-.5,-.5,.5,-.8,-1.1,-.4,-.6,-1.1,-1,-.2,-.7,-2.6],
[1,.3,1.2,1.6,.9,1.5,1.6,.3,-1.2,.2,1,-1,-1,-1,-.7,-1.1,-.9,.1,-.7,-2.2],
[2.1,.6,.9,2.5,1,.6,.9,.3,0,.1,.3,-1.2,-1.4,-1.1,-.9,-1.3,-.9,-.9,-1,-.2],
[2.4,2.1,1.6,1.8,.3,.2,.6,-.2,-.7,-.8,-.1,-1,-1,-1,-1,-1.1,-.9,.1,-1.1,-.1],
[2.9,1.7,1,-.2,.1,.9,.8,0,0,0,-.1,-1,-1.2,-.7,-1,-.9,-1.3,-.7,-.7,.1],
[2.3,1,1.6,.5,1,1.3,-1.1,.5,.7,.4,.7,-.9,-1,-.6,-1,-.9,-1.3,-.1,-1.5,-1.1],
[2.7,.9,2.7,1.1,-.7,-.5,.2,-.5,-.4,-.1,-.1,-.1,-.3,-.8,-.7,-1.1,0,-.5,-.8,-1.6],
[1.4,1.5,1.3,2.3,.5,-.1,-1.1,.6,-.8,-1,1,-.7,-1.3,.1,.3,-2,-.7,-.5,-.5,-.8],
[1,.9,1.2,1.1,.9,1.2,1.9,1,.1,.1,.9,-1.1,-1.2,-1,-1.1,-1.2,-1.3,-1,-.9,-1.4],
[1.4,.4,1.2,.6,1.1,1.1,1.9,.9,.4,.5,.8,-1.1,-1.2,-1.1,-1.2,-1.2,-1.3,-1.1,-1,-1.2],
[.6,1.1,1.2,.8,.8,1.6,2.1,.4,0,.8,.2,-1.4,-1.5,-1,-1.2,-1.1,-1.6,-1,-.4,-.7],
[1.5,1.2,.7,.1,.3,1.8,1.7,1.3,.9,-.5,.3,-1.1,-1.2,-1.1,-1.2,-1,-1.3,-.9,-1,-1.2],
[2.7,1,.9,.9,.8,1.2,1,.4,.3,0,.2,-1.1,-1.1,-1.1,-1.2,-1.1,-1.2,-.8,-1,-1.3],
[2.2,1,1.1,.6,1,.9,.9,.6,.9,.6,.5,-1.1,-1.2,-1.1,-1.2,-1.1,-1.2,-1.1,-1.1,-1.3],
[1.9,.9,1,1.1,.7,.9,1.1,.9,.1,.6,.9,-1.1,-1.2,-.9,-1.1,-1.2,-.9,-.3,-1,-2.1],
[2,0,1.3,.8,1.2,.9,1.2,.2,.1,.7,.6,-.8,-1.4,-.8,-1.2,-.8,-1.7,.1,.1,-2.1],
[1.4,.6,1.9,.5,1.1,1.2,1.3,.8,.2,.1,.9,-1.1,-1.2,-.8,-1.2,-.9,-1.7,-.5,-.7,-1.9],
[2.2,.8,1.4,-.3,.7,1.3,1.1,.5,.8,0,.2,-1.1,-1.4,-.3,-1.4,-.8,-1.9,.3,-.5,-1.8],
[1.2,.4,.6,.1,.6,1.7,1.4,1.1,.5,-.5,.9,-.9,-1.7,.1,-.3,-.8,-2.1,.2,-.7,-2.1],
[0,.4,.2,.7,.4,2.6,2.5,1.3,-.4,0,.2,-1,-1,-.9,-.9,-.8,-1,-.9,-.9,.2],
[.8,.3,0,.2,.7,2.7,2.5,.9,-.1,.1,.1,-.9,-.9,-.9,-.9,-.8,-.9,-.9,-.9,-.9]];
const heatCLegendTicks=[2,1,0,-1,-2];

/* ---------- Heatmap F data ---------- */
const heatFRows=["SFAHFA 2:0/22:0;O","FA 24:0;(2OH)","FA 26:1","Cer (t18:0/24:0)","Cer (t18:0/22:0)","CL 79:8","PG (O-19:2/18:0)","CL 78:10","PG (22:4/22:5)","CL 78:13","PE (18:1/22:6)","PS (18:0/22:6)","CL 68:6","PC (16:0/18:1)","PE (O-19:0/22:6)","LPE 22:6","LPC 18:1","PG (16:0/18:1)","FA 24:1;(2OH)","PE (O-16:1/22:5)","PS (18:1/22:6)","PI (16:0/18:1)","PG (22:6/22:6)","FA 20:5;(2OH)","PE (O-18:3/20:4)","PE (O-18:2/22:6)","FA 22:6;(2OH)","LPS 22:6","TG (23:0/34:1/18:3","TG (11:0/8:0/20:0;O1)","PE (O-18:1/18:1)","FA 22:6","SPB 18:0;O2","SL (18:0;O/17:0;O)","PE (22:5/18:2;O2)","FA 16:0;(2OH)","HexCer (d18:1/16:0)","SM (d18:1/16:0)","FA 15:2","FA 22:4","PE (O-20:1/22:5)","PE (O-18:1/22:4)","PS (17:1/22:4)","FA 24:2","PE (O-16:1/18:2)","PG (18:2/18:2)","PG (20:4/22:5)","PS (18:0/22:5)","PS (18:0/20:4)","PS (18:1/20:4)"];
const heatFCols=["SPLN_1","SPLN_2","SPLN_3","SPLN_4","SPLN_9","SPLN_10","SPLN_11","SPLN_12","SPLN_13","SPLN_14","SPLN_15","SPLN_5","SPLN_6","SPLN_7","SPLN_8","SPLN_16","SPLN_17","SPLN_18","SPLN_19","SPLN_20"];
const heatFValues=[
[1.9,-1,3.4,-.6,-.3,-.4,.4,.5,.2,-1.1,-.1,-.9,.5,.9,-.9,-.9,-1.1,.2,-1.1,-.9],
[2.2,-.7,3.2,-.7,-.8,-1,-.2,.7,.1,-1,-.3,-.8,.3,.7,-.4,-.7,-1,.8,-.8,-1],
[1.9,-.8,2.9,.1,.1,-1.1,-1.1,-1,-.8,.7,-.8,-.2,1.2,.2,.2,-.9,-1,1.3,-.4,-1.6],
[3,-.3,2.4,-1.1,-.2,-1.4,.1,-.7,-.7,-.6,-.6,-.4,-.6,-.7,-.5,-1.1,-.1,1.5,-.9,1.1],
[1.7,-.3,3.8,-1,-.3,-1.3,-.2,-.7,-.7,-.6,-.4,-.3,-.6,-.7,-.4,-1,-.2,1.4,-.9,.6],
[2.9,-.3,2.7,-.4,.3,.3,.2,.4,.7,-.9,.5,-.9,-.8,-.9,-.8,-1,-.6,-.3,-1.2,-1.3],
[2.4,-.1,3.1,-.5,.4,.4,.4,.5,.8,-.7,.8,-1.1,-1.2,-1,-1,-1.1,-.9,-.5,-1.2,-.9],
[2.6,-.7,3.1,-.5,-.1,-.2,.3,.7,.8,-1.1,.2,-.9,-.8,-.6,-1,-1.2,-1.1,-.1,-1.3,.3],
[1.9,-.8,2.8,-.8,.2,.4,.5,.6,1,-1.2,1,-.7,-.6,.4,.1,-1.5,-1.5,-.8,-1.4,.2],
[1.4,-.2,2.9,2.3,.2,.5,.2,.1,.5,-.8,-.1,-1.1,-1.1,-1.2,-1.2,-1.1,-1,-.5,-1.3,.5],
[1.8,-.4,1.4,2.6,.5,.9,.2,.2,.4,.2,.2,-1.3,-1.4,-1.3,-1.4,-1.2,-.9,-.7,-1,1.2],
[.9,-1,1.5,1,1.6,.4,.4,-1.2,1.3,-1.1,1.6,-.7,-.9,-.9,-.7,-1.1,-1,-.9,-1.2,1.6],
[1.7,-.2,3,-.1,-.1,-.1,-.1,-.6,.1,-1.3,-.4,-.5,-.2,-.4,-.6,-1.5,-.7,.1,-1.3,2.1],
[1.9,-1,2.3,1.4,-.7,-.5,-.6,-.9,-.6,-.7,-.8,-.7,-.7,-.8,-.8,-.2,-.9,1.1,-1.2,2.6],
[1.8,-.3,1.1,-.2,.7,.1,-.2,.1,.4,-.3,-.6,-1,-1.2,-1.2,-.9,-1.1,.1,0,-.7,3.4],
[4,-.2,.1,-.1,-.2,-.2,-.1,.2,.1,-.1,-.3,-.7,-.6,-.6,-.6,-.6,-.5,-.6,-.6,.1],
[4,-.5,.7,-.2,-.3,-.1,-.6,-.7,-.2,.1,-.7,-.6,-.7,-.5,-.4,-.3,-.3,-.1,-.4,.8],
[3.9,-.8,1,-.2,-.1,-.2,-.6,-.7,-.3,-1.1,-.7,-.2,-.3,-.3,-.4,-1,.4,.2,-.9,.5],
[3.7,-.7,.5,.6,-.3,-.9,-1,-1,-.9,.8,-1.2,-.3,.2,-.5,-.3,-.7,.5,0,-.8,.3],
[-1.5,.5,2.2,.4,1,.5,-.2,-.5,1,1.7,.8,-.2,-1.1,-1.2,-.1,-.9,-.2,.1,.1,-2],
[-1.3,.2,1.8,3,.5,1,.7,0,.5,.3,.8,-1,-1,-.9,-.8,-.9,-.8,-.3,-.8,-1.2],
[-1.2,-.1,3.1,.3,1,1,1.1,.8,1,.1,.8,-1.1,-1,-1,-.9,-.8,-.6,-.8,-1,-1.1],
[.1,-.2,3.3,1.3,.9,.5,1.3,.5,.7,0,-.1,-1,-1,-.9,-.8,-1,-1,-.9,-1,-1.1],
[-.8,.1,3.4,.8,1.2,0,.4,-.7,-1.1,.3,-.3,.5,.1,.1,1.3,-.9,-1.3,-.3,-1,-1.3],
[.1,0,1.9,.9,1.4,1.4,.8,.3,.8,.6,.5,-1,-1.1,-1,-1,-1.2,-.6,-.9,-1,-1.6],
[1,.4,2,.5,1,1,.5,.1,.6,1,.8,-1.3,-1.3,-1.2,-1.1,-1.2,-1,-.9,-1,0],
[.5,-.6,1.5,.9,2.7,.6,1.3,.5,-1,1.2,.5,-.9,-.9,-.8,-.9,-.9,-1,-.9,-1.1,-1],
[2.8,.2,.2,1.6,1.6,1.2,0,-.2,-.2,1,.5,-1,-1.1,-1.1,-1.1,-1.2,-.9,-1.1,-1.1,-.7],
[-1.2,-.6,2,.2,.5,-.2,.8,.2,-.7,3,.5,.3,.8,-.1,-.8,-.6,-1.1,-1,-1.1,-1.2],
[-.7,.2,1.4,-.5,.4,-.2,.7,-.6,-.6,2.9,2.6,-.7,.2,-.9,-.9,-.9,-.9,-1,-1,-1],
[-.4,.1,1.9,-.6,1.5,-.6,-.7,-.5,.8,3,1,-.3,-.9,-1,-.3,-1.5,-.9,-.2,-1.2,.5],
[-.5,.6,2.7,.1,1.1,.3,-.7,.4,.4,2.2,.1,-1.1,-1.1,-1.1,-1.1,-1.2,-1.1,-1.1,-1.1,1.1],
[-.6,.1,-1,-.8,.6,-.6,.6,-.6,-1.2,.7,.5,-.5,-.9,-.7,-.9,1.6,-.2,-1,3.4,.8],
[-1.1,-.6,-.4,.1,.9,2.8,0,-.5,.2,.6,.1,-1,-1.1,-1,-1,-.8,.6,-.3,0,2.6],
[-.7,-.8,.1,-.5,.1,-.4,-.6,-.8,-.3,0,-.7,.1,-.4,-.1,-.2,-.7,.2,1.3,0,4.2],
[.5,.2,-.4,-.3,-.8,-.7,-.6,.1,-1.2,-.6,-.2,-.9,.8,-1,.3,-.1,.1,1.6,-.6,3.6],
[-1,-.1,-1.7,-.5,.1,-1.3,.5,.3,-.3,-.3,-.1,-.6,-.2,-.1,.4,-1,1,2.4,-.6,2.9],
[-.8,-1,-1.5,.1,.1,-.7,-.7,-.7,-.2,.1,.1,-.7,-.2,-.1,.1,-1,1.6,.9,.4,3.5],
[-1.1,-1,-.6,-1.2,-.7,-.1,-1.1,-.8,-.9,1.9,-1,1.3,.4,.3,2,-.8,.4,-.1,-.6,2.8],
[-1.4,-1,.6,-1.2,.1,-1,-1.3,-1.1,-.8,1.6,-1.2,-.3,1.1,.6,.5,-.4,1.3,.7,-.2,2.9],
[-.9,-1,.3,-.7,.2,-1.3,-1.3,-1.3,-.8,1.8,-1.4,1,.6,-.5,.6,-.7,1.4,1.7,.9,1.9],
[-.9,-1,.3,-.7,.2,-1.3,-1.3,-1.3,-.8,1.8,-1.4,1,.5,-.5,.6,-.7,1.4,1.7,.9,1.9],
[-.9,-.1,-.7,-1.6,.1,-1.1,-1.4,-.5,-.3,1.4,-.3,1.2,-1.1,-1,.5,.9,-.2,2.3,1.2,1.8],
[-.9,-1.2,1.8,-1.2,-.1,-1,-1.3,-.4,-.9,.5,-1,1.1,1.3,.6,1.1,.1,.5,2.4,.9,-1.6],
[-.9,-1.2,-.4,-1.1,-.3,.1,-1,-1,-.7,-.7,-.1,1.4,.9,.8,1.6,-.4,2.2,1.4,1.2,-1.8],
[-1,-1.3,1.2,-1,-.7,-.4,-.6,-.1,.3,-1.2,-.7,.2,2.2,1.7,1.3,-1.3,.9,1.3,-1,-.1],
[.3,-1.2,1.3,-1,-.6,-.5,-.6,-.6,-.7,-1.3,-1,.6,.4,.8,.1,-.5,.4,3.5,-.5,.4],
[-.6,-1.3,.4,-1.1,-1.1,-.7,-.9,-1,-1,-1.2,-1.1,.9,.6,.7,.8,.4,1.4,3,.5,1.3],
[-1.3,-1.3,2.2,-1,-.7,-.5,-.7,-.9,-.1,-1.1,-.7,.5,0,.2,.2,-.1,.5,3,-.3,1.5],
[-1.7,-1.1,1.6,1.8,-.6,.1,-.3,-1.2,-.2,-1,-.6,-.1,-.6,-.7,-.3,.4,1.2,2.9,0,.3]];
const heatFLegendTicks=[4,2,0,-2,-4];

const classGroupNames=["CON-Sed","CON-Exe","OBD-Sed","OBD-Exe"];
const classGroupCounts=[4,7,4,5];

/* ---------- helpers ---------- */
const NS="http://www.w3.org/2000/svg";
function mk(tag,parent,attrs,txt){
  const e=document.createElementNS(NS,tag);
  for(const k in attrs){e.setAttribute(k,attrs[k]);}
  if(txt!==undefined){e.textContent=txt;}
  parent.appendChild(e);
  return e;
}
function hex(c){return [parseInt(c.slice(1,3),16),parseInt(c.slice(3,5),16),parseInt(c.slice(5,7),16)];}
function lerpStops(stops,t){
  t=Math.max(0,Math.min(1,t));
  for(let i=1;i<stops.length;i++){
    if(t<=stops[i][0]){
      const a=stops[i-1],b=stops[i],f=(t-a[0])/(b[0]-a[0]);
      const ca=hex(a[1]),cb=hex(b[1]);
      return "rgb("+[0,1,2].map(j=>Math.round(ca[j]+(cb[j]-ca[j])*f)).join(",")+")";
    }
  }
  return stops[stops.length-1][1];
}
const negStops=[[0,"#bdbdbd"],[.15,"#b3a6d6"],[.3,"#9f84d8"],[.45,"#8a6bdc"],[.6,"#7a4fe0"],[.78,"#5f3ce8"],[1,"#0000ff"]];
const posStops=[[0,"#bdbdbd"],[.15,"#d3ae9e"],[.3,"#e0917a"],[.45,"#e8775e"],[.75,"#f0451f"],[1,"#ff0000"]];
function fcColor(v,L){return v<0?lerpStops(negStops,-v/L):lerpStops(posStops,v/L);}
function pointRadius(y){return 3.5+2*Math.pow(Math.max(y,0),.25);}
function fmtTick(v,dec){return v.toFixed(dec);}

const panelsRoot=document.getElementById("panels");
const defsRoot=document.getElementById("defs");

function drawVolcano(c){
  const g=mk("g",panelsRoot,{});
  
  
  const sx=v=>c.x0+v*c.kx;
  const sy=v=>c.y0-v*c.ky;
  const grid=mk("g",g,{});
  
  
  const stepX=c.ticksX[1]-c.ticksX[0], stepY=c.ticksY[1]-c.ticksY[0];
  for(let v=c.ticksX[0]-stepX/2*3;v<=c.ticksX[c.ticksX.length-1]+stepX*2;v+=stepX){
    const px=sx(v);
    if(px>c.left&&px<c.right){mk("line",grid,{x1:px,x2:px,y1:c.top,y2:c.bottom,stroke:"#f1f1f1","stroke-width":1});}
  }
  for(let v=c.ticksY[0]+stepY/2;v<=c.ticksY[c.ticksY.length-1]+stepY;v+=stepY){
    const py=sy(v);
    if(py>c.top&&py<c.bottom){mk("line",grid,{x1:c.left,x2:c.right,y1:py,y2:py,stroke:"#f1f1f1","stroke-width":1.2});}
  }
  c.ticksX.forEach(v=>{mk("line",grid,{x1:sx(v),x2:sx(v),y1:c.top,y2:c.bottom,stroke:"#ebebeb","stroke-width":1.6});});
  c.ticksY.forEach(v=>{mk("line",grid,{x1:c.left,x2:c.right,y1:sy(v),y2:sy(v),stroke:"#ebebeb","stroke-width":2.4});});
  const marks=mk("g",g,{});
  
  
  c.points.forEach(p=>{
    const el=mk("circle",marks,{cx:sx(p[0]).toFixed(1),cy:sy(p[1]).toFixed(1),r:pointRadius(p[1]).toFixed(1),fill:fcColor(p[0],c.L),stroke:"#2b2b2b","stroke-width":1.1});
    
    
  });
  const th=mk("g",g,{});
  
  
  [-1,1].forEach(v=>{mk("line",th,{x1:sx(v),x2:sx(v),y1:c.top,y2:c.bottom,stroke:"#333","stroke-width":1.3,"stroke-dasharray":"2 1"});});
  mk("line",th,{x1:c.left,x2:c.right,y1:sy(1),y2:sy(1),stroke:"#333","stroke-width":1.5,"stroke-dasharray":"1.5 .7"});
  const box=mk("rect",g,{x:c.left,y:c.top,width:c.right-c.left,height:c.bottom-c.top,fill:"none",stroke:"#555","stroke-width":1.6});
  
  
  c.ticksX.forEach(v=>{
    mk("line",g,{x1:sx(v),x2:sx(v),y1:c.bottom,y2:c.bottom+3,stroke:"#666","stroke-width":1});
    const t=mk("text",g,{x:sx(v),y:c.xTickY,"text-anchor":"middle","font-size":12,fill:"#7f7f7f"},fmtTick(v,c.decX));
    
    
  });
  c.ticksY.forEach(v=>{
    mk("line",g,{x1:c.left-3,x2:c.left,y1:sy(v),y2:sy(v),stroke:"#666","stroke-width":1});
    const t=mk("text",g,{x:c.left-5,y:sy(v)+4,"text-anchor":"end","font-size":12,fill:"#7f7f7f"},fmtTick(v,c.decY));
    
    
  });
  const xt=mk("text",g,{x:c.xTitleX,y:c.xTitleY,"text-anchor":"middle","font-size":14.5,fill:"#333"},"log2(FC)");
  
  
  const yt=mk("text",g,{transform:"translate("+c.yTitleX+","+c.yTitleY+") rotate(-90)","text-anchor":"middle","font-size":15,fill:"#333"},"-log10(p-value)");
  
  

  /* colour legend */
  const lg=mk("g",g,{});
  
  
  const gid="grad-"+c.name;
  const grad=mk("linearGradient",defsRoot,{id:gid,x1:0,x2:0,y1:0,y2:1});
  const topV=(c.cbZero-c.cbTop)/c.cbK, botV=(c.cbZero-c.cbBottom)/c.cbK;
  for(let i=0;i<=24;i++){
    const val=topV+(botV-topV)*i/24;
    mk("stop",grad,{offset:(i/24*100)+"%","stop-color":fcColor(val,c.L)});
  }
  mk("text",lg,{x:c.cbX,y:c.cbTitleY,"font-size":14.3,fill:"#333"},"Log2(FC)");
  mk("rect",lg,{x:c.cbX,y:c.cbTop,width:c.cbW,height:c.cbBottom-c.cbTop,fill:"url(#"+gid+")"});
  c.legendTicks.forEach(v=>{
    const py=c.cbZero-v*c.cbK;
    mk("line",lg,{x1:c.cbX,x2:c.cbX+4.5,y1:py,y2:py,stroke:"#fff","stroke-width":1});
    mk("line",lg,{x1:c.cbX+c.cbW-4.5,x2:c.cbX+c.cbW,y1:py,y2:py,stroke:"#fff","stroke-width":1});
    mk("text",lg,{x:c.cbX+c.cbW+7,y:py+4,"font-size":12,fill:"#333"},c.legendInt?String(v):v.toFixed(1));
  });
  /* size legend */
  const sg=mk("g",g,{});
  
  
  mk("text",sg,{x:c.cbX,y:c.pTitleY,"font-size":14.3,fill:"#333"},"P-value");
  const legendR=[2,4.6,5,5.6,6.2];
  pValueLegendValues.forEach((p,i)=>{
    const py=c.pRowTop+i*c.pRowStep;
    mk("circle",sg,{cx:c.cbX+10.5,cy:py,r:legendR[i],fill:"#fff",stroke:"#444","stroke-width":1.2});
    mk("text",sg,{x:c.cbX+c.cbW+7,y:py+4,"font-size":12,fill:"#333"},pValueLegendText[i]);
  });
}

drawVolcano({name:"volcano-a",points:volcanoAPoints,ticksX:volcanoATicksX,ticksY:volcanoATicksY,L:6.95,x0:602,kx:72.3,y0:614,ky:74.2,left:64,right:857,top:129,bottom:637,decX:1,decY:0,xTickY:653,xTitleX:460,xTitleY:668,yTitleX:44,yTitleY:383,cbX:879,cbW:22,cbTop:258,cbBottom:369,cbZero:292,cbK:11,cbTitleY:251,legendTicks:legendATicks,pTitleY:409,pRowTop:429,pRowStep:22.1});
drawVolcano({name:"volcano-b",points:volcanoBPoints,ticksX:volcanoBTicksX,ticksY:volcanoBTicksY,L:6.46,x0:517,kx:63.9,y0:1240.6,ky:53.4,left:68.5,right:864,top:749,bottom:1263,decX:1,decY:1,xTickY:1280,xTitleX:466,xTitleY:1296,yTitleX:38,yTitleY:1005.5,cbX:886,cbW:22,cbTop:879,cbBottom:991.6,cbZero:927.6,cbK:9.93,cbTitleY:870,legendTicks:legendBTicks,pTitleY:1033,pRowTop:1053,pRowStep:22.6});
drawVolcano({name:"volcano-d",points:volcanoDPoints,ticksX:volcanoDTicksX,ticksY:volcanoDTicksY,L:7.27,x0:578,kx:66.4,y0:1963.7,ky:87,left:59,right:870.6,top:1468,bottom:1986.5,decX:1,decY:0,xTickY:2003,xTitleX:464,xTitleY:2018,yTitleX:37,yTitleY:1727,cbX:892.5,cbW:23,cbTop:1599.6,cbBottom:1712.6,cbZero:1639,cbK:10.2,cbTitleY:1591,legendTicks:legendDTicks,pTitleY:1754,pRowTop:1774.7,pRowStep:22.8});
drawVolcano({name:"volcano-e",points:volcanoEPoints,ticksX:volcanoETicksX,ticksY:volcanoETicksY,L:12.7,x0:657.5,kx:44.4,y0:2595.3,ky:142.4,left:57.5,right:875,top:2095.5,bottom:2618.6,decX:0,decY:0,xTickY:2635.5,xTitleX:465.6,xTitleY:2651,yTitleX:36,yTitleY:2357,cbX:897.5,cbW:22.5,cbTop:2393.6,cbBottom:2508,cbZero:2421,cbK:6.85,cbTitleY:2385,legendTicks:legendETicks,legendInt:true,pTitleY:2219,pRowTop:2239,pRowStep:23.1});

/* ---------- heatmaps ---------- */
const rdbu=[[0,"#053061"],[.1,"#2166ac"],[.2,"#4393c3"],[.3,"#92c5de"],[.4,"#d1e5f0"],[.5,"#e6e2df"],[.6,"#fddbc7"],[.7,"#f4a582"],[.8,"#d6604d"],[.9,"#b2182b"],[1,"#67001f"]];
const classColors=["#e8174f","#39b54a","#4161d8","#3ed5f5"];
const heatRoot=document.getElementById("heatmaps");
const stubsRoot=document.getElementById("stubs");

function drawHeatmap(c){
  const g=mk("g",heatRoot,{});
  
  
  const cw=(c.right-c.left)/c.cols.length;
  const rh=(c.bottom-c.top)/c.rows.length;
  const colX=i=>c.left+i*cw;
  const rowY=i=>c.top+i*rh;
  const colorOf=v=>lerpStops(rdbu,(v+c.maxAbs)/(2*c.maxAbs));
  let col=0;
  classGroupCounts.forEach((n,gi)=>{
    for(let k=0;k<n;k++){
      const r=mk("rect",g,{x:colX(col),y:c.classTop,width:cw,height:c.classBottom-c.classTop,fill:classColors[gi],stroke:"#a3a3a3","stroke-width":.8});
      
      
      col++;
    }
  });
  const cl=mk("text",g,{x:c.labelX,y:(c.classTop+c.classBottom)/2+5,"font-size":14.5,"font-weight":700,fill:"#000"},"class");
  
  
  c.values.forEach((row,ri)=>{
    row.forEach((v,ci)=>{
      const r=mk("rect",g,{x:colX(ci).toFixed(2),y:rowY(ri).toFixed(2),width:cw.toFixed(2),height:rh.toFixed(2),fill:colorOf(v),stroke:"#a0a0a0","stroke-width":1});
      
      
    });
    const t=mk("text",g,{x:c.labelX,y:rowY(ri)+rh/2+5,"font-size":13.5,fill:"#222"},c.rows[ri]);
    
    
    mk("line",stubsRoot,{x1:c.stubX,x2:c.left,y1:rowY(ri)+rh/2,y2:rowY(ri)+rh/2,stroke:"#222","stroke-width":1});
  });
  c.cols.forEach((name,ci)=>{
    const px=colX(ci)+cw/2-4.5;
    const t=mk("text",g,{transform:"translate("+px+","+c.colLabelY+") rotate(90)","font-size":c.colFont,fill:"#222"},name);
    
    
  });
  const lg=mk("g",g,{});
  
  
  const gid="grad-"+c.name;
  const grad=mk("linearGradient",defsRoot,{id:gid,x1:0,x2:0,y1:0,y2:1});
  rdbu.slice().reverse().forEach((s,i)=>{mk("stop",grad,{offset:(i*10)+"%","stop-color":s[1]});});
  mk("rect",lg,{x:c.legX,y:c.legTop,width:c.legW,height:c.legBottom-c.legTop,fill:"url(#"+gid+")"});
  const mid=(c.legTop+c.legBottom)/2, k=(c.legBottom-c.legTop)/(2*c.maxAbs);
  c.legendTicks.forEach(v=>{
    mk("text",lg,{x:c.legLabelX,y:mid-v*k+6,"font-size":15.5,fill:"#222"},String(v));
  });
}
drawHeatmap({name:"heatmap-left-ventricle",rows:heatCRows,cols:heatCCols,values:heatCValues,left:1055,right:1724.4,top:221,bottom:1208.6,classTop:199.7,classBottom:215.8,labelX:1729,maxAbs:2.89,colLabelY:1214.7,colFont:13,stubX:1051,legX:1849,legW:16,legTop:197.8,legBottom:445.8,legLabelX:1872.6,legendTicks:heatCLegendTicks});
drawHeatmap({name:"heatmap-spleen",rows:heatFRows,cols:heatFCols,values:heatFValues,left:1064.9,right:1718.7,top:1555.5,bottom:2557.6,classTop:1532.7,classBottom:1549.8,labelX:1724,maxAbs:4.2,colLabelY:2563.7,colFont:13.5,stubX:1058,legX:1857,legW:16.7,legTop:1530.6,legBottom:1788.6,legLabelX:1881,legendTicks:heatFLegendTicks});
</script>
</body>
</html>
